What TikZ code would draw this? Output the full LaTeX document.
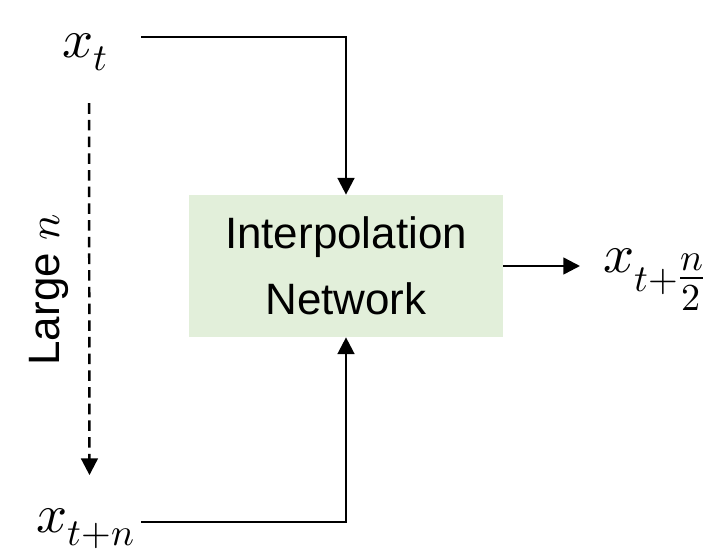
\documentclass[tikz,border=0pt]{standalone}
\usepackage{fontspec}
\usepackage{unicode-math}
\setmainfont{Liberation Sans}
\usepackage{tikz}
\usetikzlibrary{arrows.meta,calc,positioning}
\definecolor{netgreen}{RGB}{226,239,218}
\tikzset{
    mybox/.style={fill=netgreen,draw=none,minimum width=6.28cm,minimum height=2.84cm,align=center,font=\fontsize{25}{37.5}\selectfont},
    mysig/.style={inner sep=0pt,font=\fontsize{31}{37}\selectfont},
    mylabel/.style={inner sep=0pt,font=\fontsize{25}{30}\selectfont},
    myline/.style={line width=1.4pt,draw=black},
    myarrow/.style={myline,-{Triangle[length=9.5pt,width=9.5pt]}},
    mydash/.style={myarrow,dash pattern=on 6pt off 3.5pt}
}

\begin{document}
\begin{tikzpicture}
          % 画布范围固定，网络框居中，两路输入从上下接入。
          \useasboundingbox (0,0) rectangle (14.18,11.10);
          \node[mybox] (net) at (6.92,5.78) {Interpolation\\Network};
          \node[mysig,anchor=base] (xt) at (1.71,9.96) {$x_t$};
          \node[mysig,anchor=base] (xtn) at (1.72,0.45) {$x_{t+n}$};
          \node[mysig,anchor=base west] (xmid) at (12.06,5.66) {$x_{t+{\textstyle\frac{n}{2}}}$};
          \coordinate (tin) at (2.82,10.36);
          \coordinate (tnin) at (2.82,0.66);
          \draw[myarrow] (tin) -| (net.north);
          \draw[myarrow] (tnin) -| (net.south);
          \draw[myarrow,shorten >=0.46cm] (net.east) -- (net.east -| xmid.west);
          \draw[mydash,shorten <=0.64cm,shorten >=0.66cm] ([xshift=2pt]xt.south) -- ([xshift=2pt]xtn.north);
          \node[mylabel,rotate=90] (large) at (0.98,5.30) {Large $n$};
        \end{tikzpicture}
\end{document}
